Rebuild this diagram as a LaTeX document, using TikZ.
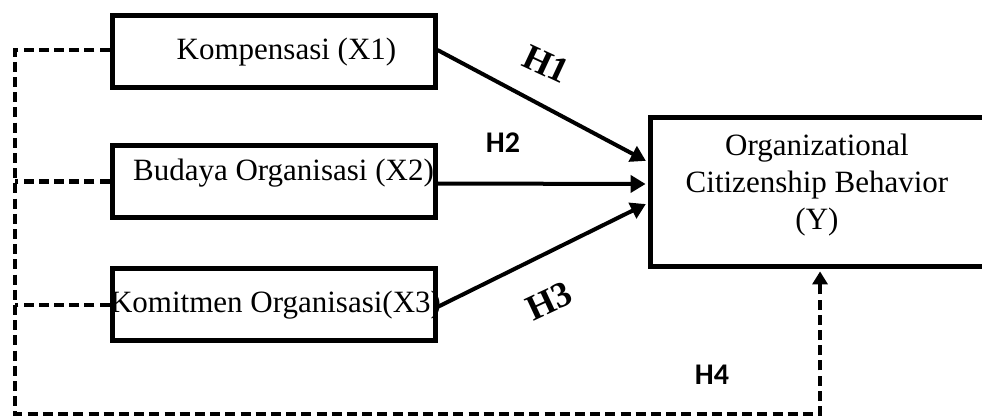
\documentclass[tikz,border=0pt]{standalone}
\usepackage{fontspec}
\setmainfont{Liberation Serif}
\newfontfamily\hypfont{Carlito}
\usetikzlibrary{arrows.meta}

\begin{document}
\begin{tikzpicture}[x=0.5pt,y=-0.5pt,
  varbox/.style={draw, line width=2.5pt, minimum width=161.5pt,
    minimum height=36pt, inner sep=0pt},
  vartext/.style={font=\fontsize{15.5}{18.5}\selectfont, inner sep=0pt},
  patharrow/.style={line width=2pt, shorten >=1.2pt,
    -{Triangle[length=7.5pt,width=8.5pt]}},
  dashline/.style={line width=2.4pt, dash pattern=on 5pt off 2.6pt},
  hserif/.style={font=\bfseries\fontsize{18}{20}\selectfont, inner sep=0pt},
  hsans/.style={font=\hypfont\bfseries\fontsize{15}{17}\selectfont, inner sep=0pt}]

\useasboundingbox (0,0) rectangle (982,417);
\clip (0,0) rectangle (982,417);

% independent variables
\node[varbox] (x1) at (273.5,52) {};
\node[varbox] (x2) at (273.5,181.5) {};
\node[varbox] (x3) at (273.5,305) {};
\node[vartext] (t1) at ([xshift=6.5pt]x1.center) {Kompensasi (X1)};
\node[vartext] (t2) at ([xshift=5pt,yshift=4.25pt]x2.center) {Budaya Organisasi (X2)};
\node[vartext] (t3) at ([xshift=1pt]x3.center) {Komitmen Organisasi(X3)};

% dependent variable
\node[draw, line width=2.5pt, minimum width=179.75pt, minimum height=74.5pt,
  inner sep=0pt] (yb) at (830.25,192) {};
\node[vartext, align=center] (ty) at (817,185)
  {Organizational\\Citizenship Behavior\\(Y)};

% direct effects
\draw[patharrow] ([yshift=1pt]x1.east) -- ([yshift=15pt]yb.west);
\draw[patharrow] ([yshift=-1pt]x2.east) -- ([yshift=4pt]yb.west);
\draw[patharrow] ([yshift=-1pt]x3.east) -- ([yshift=-5.5pt]yb.west);

% simultaneous effect
\coordinate (tl) at (15,50);
\coordinate (bl) at (15,414);
\coordinate (yin) at ([xshift=-5.1pt]yb.south);
\draw[dashline] (x2.west) -- (x2.west -| tl);
\draw[dashline] (x3.west) -- (x3.west -| tl);
\draw[dashline, shorten >=1.2pt, -{Triangle[length=6.5pt,width=7.5pt]}]
  ([yshift=1pt]x1.west) -- (tl) -- (bl) -| (yin);

% hypothesis labels
\node[hserif, rotate=-25] (h1) at (546,64) {H1};
\node[hsans] (h2) at (503,143) {H2};
\node[hserif, rotate=25] (h3) at (549,301) {H3};
\node[hsans] (h4) at (712,375) {H4};
\end{tikzpicture}
\end{document}
